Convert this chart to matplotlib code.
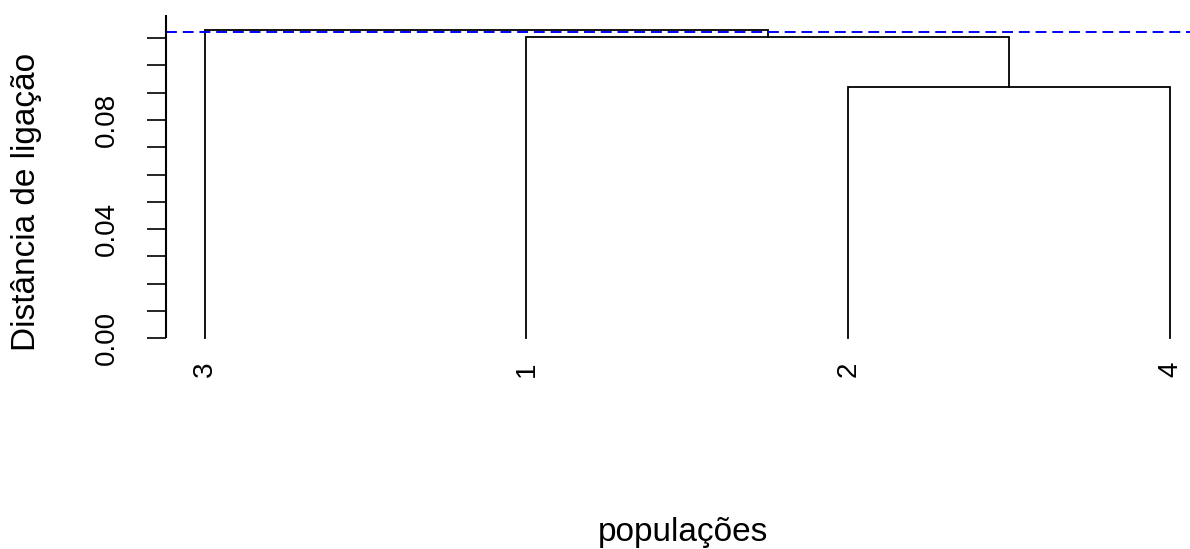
import matplotlib
matplotlib.use("Agg")
import matplotlib.pyplot as plt
import numpy as np

# ---- data (R hclust style) ----
leaf_labels = ["1", "2", "3", "4"]
merge_pairs = [(-2, -4), (-1, 1), (-3, 2)]   # negative = leaf, positive = earlier merge
merge_heights = [0.0919, 0.1105, 0.1129]
leaf_order = [3, 1, 2, 4]
cut_height = 0.1121
y_major = [0.00, 0.04, 0.08]
y_minor = [i / 100 for i in range(12)]

plt.rcParams['font.family'] = ['Liberation Sans', 'DejaVu Sans']

W, H = 1190, 549
fig = plt.figure(figsize=(W / 100, H / 100), dpi=100)

# axes placement in pixels
left_px, right_px = 166.0, 1208.6
top_px, bot_px = 17.8, 350.6
ax = fig.add_axes([left_px / W, 1 - bot_px / H, (right_px - left_px) / W, (bot_px - top_px) / H])
ax.set_xlim(0.88, 4.12)
ax.set_ylim(-0.0045, 0.1174)

# leaf positions
xpos = {leaf: i + 1 for i, leaf in enumerate(leaf_order)}
node_x, node_h = {}, {}

def get(n):
    if n < 0:
        return xpos[-n], 0.0
    return node_x[n], node_h[n]

for k, ((a, b), h) in enumerate(zip(merge_pairs, merge_heights), start=1):
    xa, ha = get(a)
    xb, hb = get(b)
    ax.plot([xa, xa, xb, xb], [ha, h, h, hb], color='black', lw=1.3, solid_joinstyle='miter')
    node_x[k] = (xa + xb) / 2
    node_h[k] = h

ax.axhline(cut_height, color='#0000ff', lw=1.4, linestyle=(0, (5.6, 3.0)))

for s in ax.spines.values():
    s.set_visible(False)

# y axis line
ax.plot([0.88, 0.88], [0.0, 0.1184], color='black', lw=1.5, clip_on=False,
        solid_capstyle='butt')
ax.set_yticks(y_minor, minor=True)
ax.set_yticks(y_major)
ax.set_yticklabels([f"{v:.2f}" for v in y_major], rotation=90, va='center', fontsize=20)
ax.tick_params(axis='y', which='both', length=14, width=1.2, direction='out', pad=19)

ax.set_xticks([xpos[l] for l in leaf_order])
ax.set_xticklabels([leaf_labels[l - 1] for l in leaf_order], rotation=90, fontsize=20)
ax.tick_params(axis='x', length=0, pad=8)

fig.text(683 / W, 1 - 533 / H, "populações", ha='center', va='center', fontsize=24)
fig.text(27 / W, 1 - 202 / H, "Distância de ligação", ha='center', va='center',
         rotation=90, fontsize=24)

fig.savefig("out.png", dpi=100)
